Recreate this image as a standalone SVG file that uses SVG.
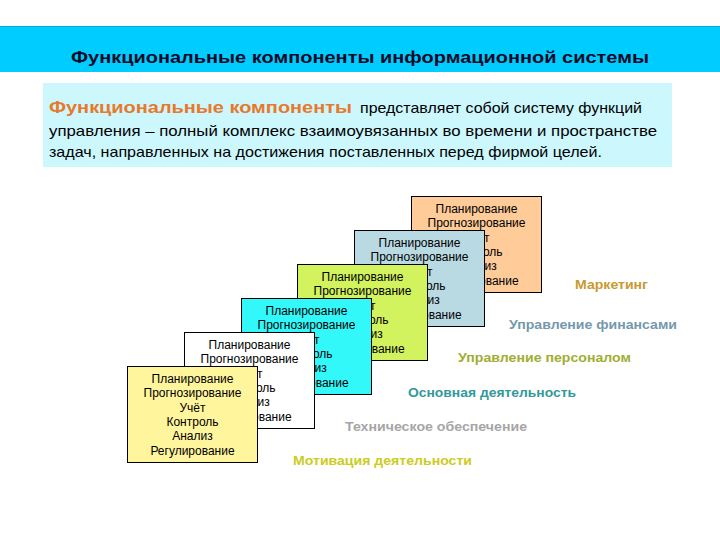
<svg xmlns="http://www.w3.org/2000/svg" width="720" height="540" viewBox="0 0 720 540">
<style>
.box{stroke:#000;stroke-width:1}
.bt{font-family:"Liberation Sans",Arial,sans-serif;font-size:12px;fill:#000;text-anchor:middle}
.lbl{font-family:"Liberation Sans",Arial,sans-serif;font-size:13px;font-weight:bold}
.body{font-family:"Liberation Sans",Arial,sans-serif;font-size:15px;fill:#000}
.accent{font-family:"Liberation Sans",Arial,sans-serif;font-size:16px;font-weight:bold;fill:#E8792B}
</style>
<rect x="0" y="0" width="720" height="540" fill="#fff"/>
<g id="header">
<rect x="0" y="26" width="720" height="46" fill="#00CCFF"/>
<line x1="0" y1="26.5" x2="720" y2="26.5" stroke="#00B4D0" stroke-width="1"/>
<text x="360" y="63" font-family="Liberation Sans,Arial,sans-serif" font-size="17" font-weight="bold" fill="#0A0A28" text-anchor="middle" textLength="578" lengthAdjust="spacingAndGlyphs">Функциональные компоненты информационной системы</text>
</g>
<g id="definition">
<rect x="43" y="83" width="629" height="84" fill="#CCF7FD"/>
<text class="accent" x="49" y="113" textLength="303" lengthAdjust="spacingAndGlyphs">Функциональные компоненты</text>
<text class="body" x="360" y="113" textLength="282" lengthAdjust="spacingAndGlyphs">представляет собой систему функций</text>
<text class="body" x="49" y="136" textLength="608" lengthAdjust="spacingAndGlyphs">управления – полный комплекс взаимоувязанных во времени и пространстве</text>
<text class="body" x="49" y="157" textLength="553" lengthAdjust="spacingAndGlyphs">задач, направленных на достижения поставленных перед фирмой целей.</text>
</g>
<g id="box6">
<rect class="box" x="411.5" y="196.5" width="130" height="96" fill="#FFCC99"/>
<text class="bt" x="476.5" y="213"><tspan x="476.5">Планирование</tspan><tspan x="476.5" dy="14.3">Прогнозирование</tspan><tspan x="476.5" dy="14.3">Учёт</tspan><tspan x="476.5" dy="14.3">Контроль</tspan><tspan x="476.5" dy="14.3">Анализ</tspan><tspan x="476.5" dy="14.3">Регулирование</tspan></text>
</g>
<g id="box5">
<rect class="box" x="354.5" y="230.5" width="130" height="96" fill="#B9DAE2"/>
<text class="bt" x="419.5" y="247"><tspan x="419.5">Планирование</tspan><tspan x="419.5" dy="14.3">Прогнозирование</tspan><tspan x="419.5" dy="14.3">Учёт</tspan><tspan x="419.5" dy="14.3">Контроль</tspan><tspan x="419.5" dy="14.3">Анализ</tspan><tspan x="419.5" dy="14.3">Регулирование</tspan></text>
</g>
<g id="box4">
<rect class="box" x="297.5" y="264.5" width="130" height="96" fill="#D2F25E"/>
<text class="bt" x="362.5" y="281"><tspan x="362.5">Планирование</tspan><tspan x="362.5" dy="14.3">Прогнозирование</tspan><tspan x="362.5" dy="14.3">Учёт</tspan><tspan x="362.5" dy="14.3">Контроль</tspan><tspan x="362.5" dy="14.3">Анализ</tspan><tspan x="362.5" dy="14.3">Регулирование</tspan></text>
</g>
<g id="box3">
<rect class="box" x="241.5" y="298.5" width="130" height="96" fill="#33F8FA"/>
<text class="bt" x="306.5" y="315"><tspan x="306.5">Планирование</tspan><tspan x="306.5" dy="14.3">Прогнозирование</tspan><tspan x="306.5" dy="14.3">Учёт</tspan><tspan x="306.5" dy="14.3">Контроль</tspan><tspan x="306.5" dy="14.3">Анализ</tspan><tspan x="306.5" dy="14.3">Регулирование</tspan></text>
</g>
<g id="box2">
<rect class="box" x="184.5" y="332.5" width="130" height="96" fill="#FFFFFF"/>
<text class="bt" x="249.5" y="349"><tspan x="249.5">Планирование</tspan><tspan x="249.5" dy="14.3">Прогнозирование</tspan><tspan x="249.5" dy="14.3">Учёт</tspan><tspan x="249.5" dy="14.3">Контроль</tspan><tspan x="249.5" dy="14.3">Анализ</tspan><tspan x="249.5" dy="14.3">Регулирование</tspan></text>
</g>
<g id="box1">
<rect class="box" x="127.5" y="366.5" width="130" height="96" fill="#FFF59D"/>
<text class="bt" x="192.5" y="383"><tspan x="192.5">Планирование</tspan><tspan x="192.5" dy="14.3">Прогнозирование</tspan><tspan x="192.5" dy="14.3">Учёт</tspan><tspan x="192.5" dy="14.3">Контроль</tspan><tspan x="192.5" dy="14.3">Анализ</tspan><tspan x="192.5" dy="14.3">Регулирование</tspan></text>
</g>
<g id="labels">
<text class="lbl" x="575" y="289" fill="#C89A30" textLength="73" lengthAdjust="spacingAndGlyphs">Маркетинг</text>
<text class="lbl" x="509" y="329" fill="#7499AC" textLength="168" lengthAdjust="spacingAndGlyphs">Управление финансами</text>
<text class="lbl" x="458" y="362" fill="#A0AE32" textLength="173" lengthAdjust="spacingAndGlyphs">Управление персоналом</text>
<text class="lbl" x="408" y="397" fill="#339999" textLength="168" lengthAdjust="spacingAndGlyphs">Основная деятельность</text>
<text class="lbl" x="345" y="431" fill="#A6A6A6" font-weight="normal" textLength="182" lengthAdjust="spacingAndGlyphs">Техническое обеспечение</text>
<text class="lbl" x="293" y="465" fill="#CCCC22" textLength="179" lengthAdjust="spacingAndGlyphs">Мотивация деятельности</text>
</g>
</svg>
